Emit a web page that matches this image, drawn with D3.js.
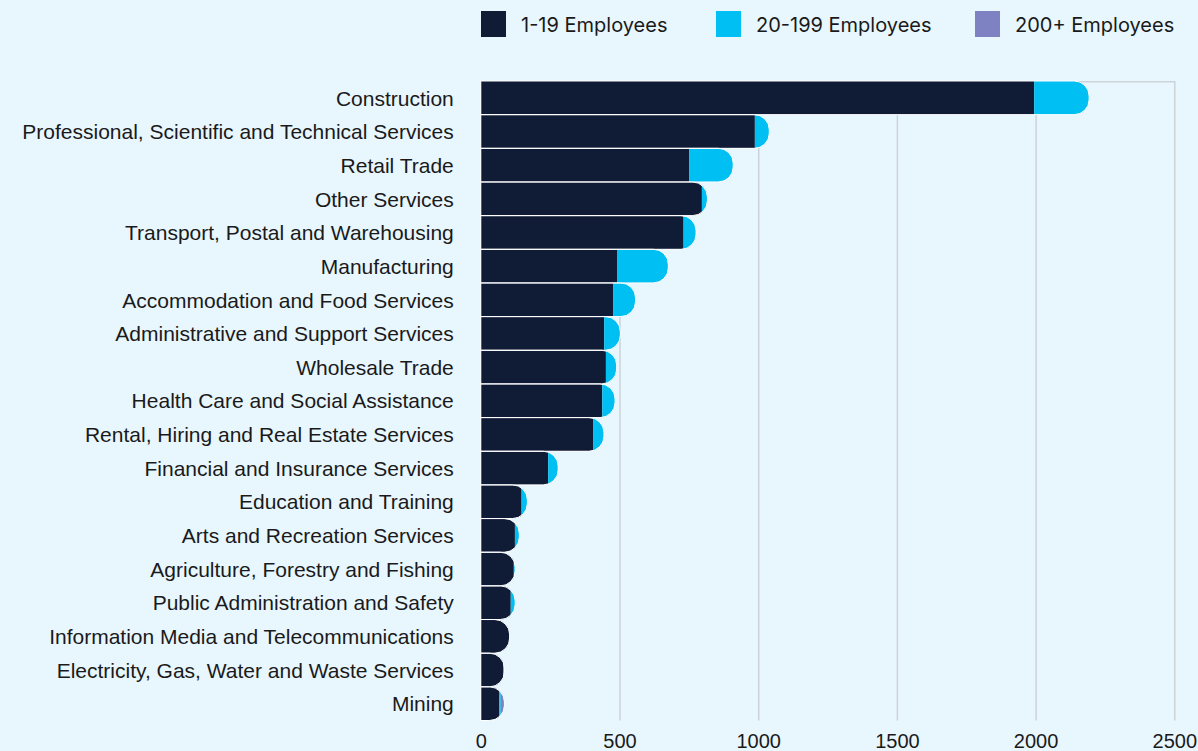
<!DOCTYPE html>
<html>
<head>
<meta charset="utf-8">
<script src="https://cdn.jsdelivr.net/npm/d3@7"></script>
<style>
  html, body { margin: 0; padding: 0; background: #e8f6fe; }
  svg { display: block; font-family: Inter, "Noto Sans", sans-serif; }
</style>
</head>
<body>
<svg id="chart" width="1198" height="751"></svg>
<script>
// Business counts by industry and employee size band
const industries = [
  "Construction",
  "Professional, Scientific and Technical Services",
  "Retail Trade",
  "Other Services",
  "Transport, Postal and Warehousing",
  "Manufacturing",
  "Accommodation and Food Services",
  "Administrative and Support Services",
  "Wholesale Trade",
  "Health Care and Social Assistance",
  "Rental, Hiring and Real Estate Services",
  "Financial and Insurance Services",
  "Education and Training",
  "Arts and Recreation Services",
  "Agriculture, Forestry and Fishing",
  "Public Administration and Safety",
  "Information Media and Telecommunications",
  "Electricity, Gas, Water and Waste Services",
  "Mining"
];
const employees1to19   = [1995, 988, 752, 797, 731, 491, 478, 445, 451, 438, 406, 243, 147, 123, 119, 108, 102, 81, 67];
const employees20to199 = [198, 52, 158, 20, 45, 185, 80, 58, 39, 46, 38, 36, 21, 16, 5, 16, 2, 4, 5];
const employees200plus = [0, 0, 0, 0, 0, 0, 0, 0, 0, 0, 0, 0, 0, 0, 0, 0, 0, 0, 13];
const seriesNames = ["1-19 Employees", "20-199 Employees", "200+ Employees"];
const xTicks = [0, 500, 1000, 1500, 2000, 2500];

const seriesColors = ["#101b35", "#00c0f3", "#7f82c2"];
const W = 1198, H = 751;
const plot = { left: 480.8, right: 1174.3, top: 81, bottom: 720.5 };
const cornerRadius = 15;

const svg = d3.select("#chart");
svg.append("rect").attr("width", W).attr("height", H).attr("fill", "#e8f6fe");

const x = d3.scaleLinear().domain([0, 2500]).range([plot.left, plot.right]);
const y = d3.scaleBand().domain(industries).range([plot.top, plot.bottom]).padding(0);

// rows for stacking
const keys = ["small", "medium", "large"];
const rows = industries.map((name, i) => ({
  name,
  small: employees1to19[i],
  medium: employees20to199[i],
  large: employees200plus[i]
}));
const stacked = d3.stack().keys(keys)(rows);

// vertical gridlines + tick labels
const xAxis = d3.axisBottom(x)
  .tickValues(xTicks)
  .tickFormat(d3.format("d"))
  .tickSize(-(plot.bottom - plot.top))
  .tickPadding(13);
const gx = svg.append("g")
  .attr("transform", `translate(0,${plot.bottom})`)
  .call(xAxis);
gx.select(".domain").remove();
gx.selectAll(".tick line")
  .attr("stroke", "#cdd3d8")
  .attr("stroke-width", 1.5)
  .attr("opacity", d => d === 0 ? 0 : 1);
gx.selectAll(".tick text")
  .attr("fill", "#1a1a1a")
  .style("font-size", "20px");

// top frame line
svg.append("line")
  .attr("x1", x(0)).attr("x2", x(2500))
  .attr("y1", plot.top + 0.75).attr("y2", plot.top + 0.75)
  .attr("stroke", "#cdd3d8").attr("stroke-width", 1.5);

// category labels
const yAxis = d3.axisLeft(y).tickSize(0).tickPadding(27);
const gy = svg.append("g")
  .attr("transform", `translate(${plot.left},1)`)
  .call(yAxis);
gy.select(".domain").remove();
gy.selectAll(".tick text")
  .attr("fill", "#1a1a1a")
  .style("font-size", "21px");

// stack outline with rounded end
function roundedRight(x0, x1, y0, h, r) {
  const rr = Math.max(0, Math.min(r, h / 2, x1 - x0));
  return `M${x0},${y0}H${x1 - rr}` +
    `A${rr},${rr} 0 0 1 ${x1},${y0 + rr}` +
    `V${y0 + h - rr}` +
    `A${rr},${rr} 0 0 1 ${x1 - rr},${y0 + h}` +
    `H${x0}Z`;
}

const defs = svg.append("defs");
const totals = rows.map(r => r.small + r.medium + r.large);
rows.forEach((r, i) => {
  defs.append("clipPath").attr("id", "stack-clip-" + i)
    .append("path")
    .attr("d", roundedRight(x(0), x(totals[i]), y(r.name), y.bandwidth(), cornerRadius));
});

const bars = svg.append("g");
stacked.forEach((layer, li) => {
  bars.append("g")
    .attr("fill", seriesColors[li])
    .selectAll("rect")
    .data(layer)
    .join("rect")
    .attr("clip-path", (d, i) => `url(#stack-clip-${i})`)
    .attr("x", d => x(d[0]))
    .attr("width", d => Math.max(0, x(d[1]) - x(d[0])))
    .attr("y", d => y(d.data.name))
    .attr("height", y.bandwidth());
});

// white outline separating the rows
bars.append("g")
  .selectAll("path")
  .data(rows)
  .join("path")
  .attr("d", (r, i) => roundedRight(x(0), x(totals[i]), y(r.name), y.bandwidth(), cornerRadius))
  .attr("fill", "none")
  .attr("stroke", "#ffffff")
  .attr("stroke-width", 1);

// legend
const legendX = [481, 716, 975];
const legend = svg.append("g");
seriesNames.forEach((name, i) => {
  const g = legend.append("g").attr("transform", `translate(${legendX[i]},11)`);
  g.append("rect").attr("width", 25).attr("height", 26).attr("fill", seriesColors[i]);
  g.append("text")
    .attr("x", 40).attr("y", 13.5)
    .attr("dominant-baseline", "central")
    .attr("fill", "#1a1a1a")
    .style("font-size", "20px")
    .text(name);
});
</script>
</body>
</html>
